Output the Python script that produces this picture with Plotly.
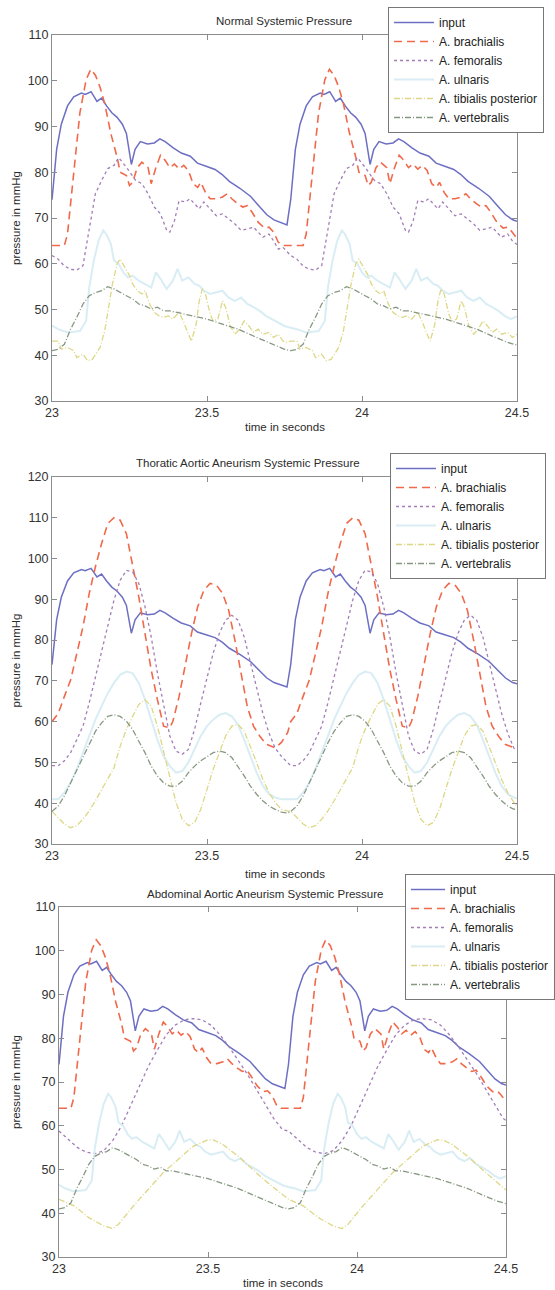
import plotly.graph_objects as go

W, H = 555, 1290

# ---------------- data ----------------
SERIES = ["input", "A. brachialis", "A. femoralis", "A. ulnaris",
          "A. tibialis posterior", "A. vertebralis"]
x_ticks = [23, 23.5, 24, 24.5]
x_tick_labels = ["23", "23.5", "24", "24.5"]

# input (same in all three panels)
t_input = [23.00, 23.015, 23.03, 23.05, 23.07, 23.095, 23.107, 23.126, 23.145, 23.16,
           23.176, 23.193, 23.21, 23.227, 23.24, 23.256, 23.268, 23.285, 23.308, 23.33,
           23.348, 23.365, 23.39, 23.417, 23.446, 23.469, 23.497, 23.526, 23.549, 23.572,
           23.606, 23.641, 23.664, 23.693, 23.716, 23.744, 23.758,
           23.77, 23.785, 23.80, 23.82, 23.84, 23.865, 23.877, 23.896, 23.915, 23.93,
           23.946, 23.963, 23.98, 23.997, 24.01, 24.026, 24.038, 24.055, 24.078, 24.10,
           24.118, 24.135, 24.16, 24.187, 24.216, 24.239, 24.267, 24.296, 24.319, 24.342,
           24.376, 24.411, 24.434, 24.463, 24.486, 24.50]
p_input = [74, 85, 90.5, 94.5, 96.5, 97.3, 97, 97.6, 95.5, 96.2,
           94.5, 93, 92, 90.5, 88.5, 81.7, 85, 86.7, 86.2, 86.4,
           87.3, 86.7, 85.4, 84.2, 83.5, 82, 81.3, 80.6, 79.5, 78,
           76.5, 74.7, 72.9, 70.7, 69.6, 68.9, 68.5,
           74, 85, 90.5, 94.5, 96.5, 97.3, 97, 97.6, 95.5, 96.2,
           94.5, 93, 92, 90.5, 88.5, 81.7, 85, 86.7, 86.2, 86.4,
           87.3, 86.7, 85.4, 84.2, 83.5, 82, 81.3, 80.6, 79.5, 78,
           76.5, 74.7, 72.9, 70.7, 69.6, 69.3]

# normal systemic pressure (brachialis, ulnaris, vertebralis also in abdominal panel)
t_brach_n = [23.00, 23.04, 23.05, 23.07, 23.09, 23.11, 23.125, 23.14, 23.155, 23.17,
             23.19, 23.21, 23.22, 23.24, 23.25, 23.26, 23.275, 23.29, 23.31, 23.32,
             23.335, 23.35, 23.365, 23.38, 23.395, 23.41, 23.425, 23.44, 23.455, 23.47,
             23.48, 23.495, 23.51, 23.53, 23.55, 23.565, 23.58, 23.60, 23.615, 23.63,
             23.645, 23.665, 23.685, 23.70, 23.715, 23.73, 23.745,
             23.77, 23.81, 23.82, 23.84, 23.86, 23.88, 23.895, 23.91, 23.925, 23.94,
             23.96, 23.98, 23.99, 24.01, 24.02, 24.03, 24.045, 24.06, 24.08, 24.09,
             24.105, 24.12, 24.135, 24.15, 24.165, 24.18, 24.195, 24.21, 24.225, 24.24,
             24.25, 24.265, 24.28, 24.30, 24.32, 24.335, 24.35, 24.37, 24.385, 24.40,
             24.415, 24.435, 24.455, 24.47, 24.485, 24.50]
p_brach_n = [64, 64, 66.5, 80, 93, 100.2, 102.5, 101.2, 98.6, 95,
             88.4, 83.3, 80, 79.3, 77.1, 77.8, 81, 82.2, 81, 77.5,
             81, 83.7, 82.6, 81, 81.8, 80.7, 81.5, 80.4, 77.5, 76.7,
             77.8, 75.6, 74.2, 74.2, 74.6, 75.3, 74.2, 73.1, 72.4, 72.7,
             71.3, 69.1, 67.8, 68, 66.9, 64.7, 64,
             64, 64, 66.5, 80, 93, 100.2, 102.5, 101.2, 98.6, 95,
             88.4, 83.3, 80, 79.3, 77.1, 77.8, 81, 82.2, 81, 77.5,
             81, 83.7, 82.6, 81, 81.8, 80.7, 81.5, 80.4, 77.5, 76.7,
             77.8, 75.6, 74.2, 74.2, 74.6, 75.3, 74.2, 73.1, 72.4, 72.7,
             71.3, 69.1, 67.8, 68, 66.9, 65.5]

t_fem_n = [23.00, 23.02, 23.04, 23.06, 23.08, 23.10, 23.11, 23.125, 23.14, 23.16,
           23.18, 23.20, 23.215, 23.24, 23.255, 23.27, 23.29, 23.31, 23.33, 23.35,
           23.37, 23.38, 23.395, 23.41, 23.43, 23.445, 23.46, 23.475, 23.49, 23.51,
           23.53, 23.55, 23.57, 23.59, 23.61, 23.63, 23.65, 23.665, 23.68, 23.70,
           23.715, 23.73, 23.745, 23.76,
           23.77, 23.79, 23.81, 23.83, 23.85, 23.87, 23.88, 23.895, 23.91, 23.93,
           23.95, 23.97, 23.985, 24.01, 24.025, 24.04, 24.06, 24.08, 24.10, 24.12,
           24.14, 24.15, 24.165, 24.18, 24.20, 24.215, 24.23, 24.245, 24.26, 24.28,
           24.30, 24.32, 24.34, 24.36, 24.38, 24.40, 24.42, 24.435, 24.45, 24.47,
           24.485, 24.50]
p_fem_n = [61.8, 61, 59.5, 58.8, 58.6, 59.6, 63.6, 69.4, 75.3, 78.2,
           80.8, 81.5, 83.2, 81.1, 79.7, 78.2, 77.5, 75.3, 72.4, 70.9,
           67.3, 66.9, 69.4, 73.8, 73.5, 74.2, 73.1, 72, 73.5, 72,
           70.5, 70.9, 69.8, 68.7, 67.3, 67.6, 68, 66.9, 65.8, 66.5,
           65, 63.2, 63.6, 62.5,
           61.8, 61, 59.5, 58.8, 58.6, 59.6, 63.6, 69.4, 75.3, 78.2,
           80.8, 81.5, 83.2, 81.1, 79.7, 78.2, 77.5, 75.3, 72.4, 70.9,
           67.3, 66.9, 69.4, 73.8, 73.5, 74.2, 73.1, 72, 73.5, 72,
           70.5, 70.9, 69.8, 68.7, 67.3, 67.6, 68, 66.9, 65.8, 66.5,
           65, 64.2]

t_uln_n = [23.00, 23.02, 23.05, 23.09, 23.11, 23.12, 23.135, 23.15, 23.165, 23.175,
           23.19, 23.20, 23.215, 23.23, 23.245, 23.26, 23.28, 23.30, 23.32, 23.335,
           23.35, 23.37, 23.39, 23.405, 23.42, 23.44, 23.46, 23.475, 23.49, 23.51,
           23.53, 23.55, 23.57, 23.59, 23.61, 23.63, 23.65, 23.67, 23.69, 23.71,
           23.73, 23.75,
           23.77, 23.79, 23.82, 23.86, 23.88, 23.89, 23.905, 23.92, 23.935, 23.945,
           23.96, 23.97, 23.985, 24.00, 24.015, 24.03, 24.05, 24.07, 24.09, 24.105,
           24.12, 24.14, 24.16, 24.175, 24.19, 24.21, 24.23, 24.245, 24.26, 24.28,
           24.30, 24.32, 24.34, 24.36, 24.38, 24.40, 24.42, 24.44, 24.46, 24.48,
           24.50]
p_uln_n = [46.5, 45.7, 45, 45.3, 47.5, 54.8, 60.7, 65, 67.3, 66.5,
           64.3, 60.7, 60, 58.1, 57, 57.4, 56.3, 55.6, 54.8, 58.1,
           56.7, 54.5, 56.3, 58.9, 56.3, 57, 55.6, 55.2, 54.1, 53.4,
           53.7, 54.1, 52.6, 51.9, 52.6, 51.2, 50.5, 49.7, 48.6, 47.9,
           47.2, 46.4,
           46, 45.7, 45, 45.3, 47.5, 54.8, 60.7, 65, 67.3, 66.5,
           64.3, 60.7, 60, 58.1, 57, 57.4, 56.3, 55.6, 54.8, 58.1,
           56.7, 54.5, 56.3, 58.9, 56.3, 57, 55.6, 55.2, 54.1, 53.4,
           53.7, 54.1, 52.6, 51.9, 52.6, 51.2, 50.5, 49.7, 48.6, 47.9,
           48.5]

t_tib_n = [23.00, 23.02, 23.03, 23.05, 23.07, 23.08, 23.10, 23.115, 23.13, 23.14,
           23.155, 23.17, 23.18, 23.195, 23.21, 23.22, 23.235, 23.25, 23.26, 23.275,
           23.29, 23.30, 23.315, 23.33, 23.345, 23.36, 23.375, 23.39, 23.41, 23.425,
           23.44, 23.45, 23.465, 23.475, 23.485, 23.495, 23.51, 23.52, 23.535, 23.55,
           23.56, 23.575, 23.59, 23.605, 23.62, 23.635, 23.65, 23.665, 23.68, 23.70,
           23.715, 23.73, 23.745, 23.76,
           23.77, 23.79, 23.80, 23.82, 23.84, 23.85, 23.87, 23.885, 23.90, 23.91,
           23.925, 23.94, 23.95, 23.965, 23.98, 23.99, 24.005, 24.02, 24.03, 24.045,
           24.06, 24.07, 24.085, 24.10, 24.115, 24.13, 24.145, 24.16, 24.18, 24.195,
           24.21, 24.22, 24.235, 24.245, 24.255, 24.265, 24.28, 24.29, 24.305, 24.32,
           24.33, 24.345, 24.36, 24.375, 24.39, 24.405, 24.42, 24.435, 24.45, 24.47,
           24.485, 24.50]
p_tib_n = [43.1, 43.1, 41.3, 41.7, 41, 39.5, 40.2, 38.8, 39.1, 40.2,
           41.7, 45.3, 49.7, 55.6, 60, 61, 59.2, 57.4, 55.6, 54.1,
           53.4, 54.1, 51.2, 49.4, 48.6, 48.3, 48.6, 47.9, 49.4, 47.2,
           44.6, 43.1, 46.8, 51.9, 54.5, 53.4, 49, 47.5, 47.9, 51.9,
           50.5, 46.4, 44.6, 45.7, 47.5, 46.4, 45, 45.7, 44.6, 45,
           43.9, 44.6, 43.1, 42.8,
           43.1, 43.1, 41.3, 41.7, 41, 39.5, 40.2, 38.8, 39.1, 40.2,
           41.7, 45.3, 49.7, 55.6, 60, 61, 59.2, 57.4, 55.6, 54.1,
           53.4, 54.1, 51.2, 49.4, 48.6, 48.3, 48.6, 47.9, 49.4, 47.2,
           44.6, 43.1, 46.8, 51.9, 54.5, 53.4, 49, 47.5, 47.9, 51.9,
           50.5, 46.4, 44.6, 45.7, 47.5, 46.4, 45, 45.7, 44.6, 45,
           43.9, 44.6]

t_vert_n = [23.00, 23.02, 23.04, 23.06, 23.08, 23.10, 23.12, 23.14, 23.16, 23.18,
            23.20, 23.22, 23.24, 23.26, 23.28, 23.30, 23.32, 23.34, 23.36, 23.38,
            23.40, 23.45, 23.50, 23.55, 23.60, 23.65, 23.70, 23.75,
            23.77, 23.79, 23.81, 23.83, 23.85, 23.87, 23.89, 23.91, 23.93, 23.95,
            23.97, 23.99, 24.01, 24.03, 24.05, 24.07, 24.09, 24.11, 24.13, 24.15,
            24.17, 24.22, 24.27, 24.32, 24.37, 24.42, 24.47, 24.50]
p_vert_n = [41, 41.3, 42.4, 45.7, 48.3, 51.2, 53, 53.7, 54.1, 55,
            54.5, 53.7, 53, 52.3, 51.2, 50.8, 50.1, 50.5, 49.7, 49.7,
            49.4, 48.6, 47.9, 46.8, 45.7, 44.2, 42.8, 41.3,
            41, 41.3, 42.4, 45.7, 48.3, 51.2, 53, 53.7, 54.1, 55,
            54.5, 53.7, 53, 52.3, 51.2, 50.8, 50.1, 50.5, 49.7, 49.7,
            49.4, 48.6, 47.9, 46.8, 45.7, 44.2, 42.8, 42.2]

# thoracic aortic aneurism
t_brach_t = [23.00, 23.02, 23.04, 23.06, 23.08, 23.10, 23.12, 23.14, 23.16, 23.18,
             23.20, 23.22, 23.24, 23.26, 23.28, 23.30, 23.32, 23.34, 23.36,
             23.38, 23.39, 23.41, 23.43, 23.45, 23.47, 23.49, 23.51, 23.53, 23.55,
             23.57, 23.59, 23.61, 23.63, 23.65, 23.67, 23.69, 23.72, 23.74, 23.76,
             23.77, 23.79, 23.81, 23.83, 23.85, 23.87, 23.89, 23.91, 23.93, 23.95,
             23.97, 23.99, 24.01, 24.03, 24.05, 24.07, 24.09, 24.11, 24.13,
             24.15, 24.16, 24.18, 24.20, 24.22, 24.24, 24.26, 24.28, 24.30, 24.32,
             24.34, 24.36, 24.38, 24.40, 24.42, 24.44, 24.46, 24.49, 24.50]
p_brach_t = [60, 62, 66.2, 70.2, 76.7, 83.3, 91.4, 98, 103.7, 108.6,
             110, 109.4, 106.1, 98.8, 90.6, 81.6, 72.7, 65.4, 58.9,
             58.5, 60.1, 66.2, 74.3, 81.6, 88.2, 92.2, 93.9, 93.5, 91.5,
             87.3, 80, 71.9, 63.7, 58.9, 56.5, 54.5, 53.6, 54.9, 57.3,
             60, 62, 66.2, 70.2, 76.7, 83.3, 91.4, 98, 103.7, 108.6,
             110, 109.4, 106.1, 98.8, 90.6, 81.6, 72.7, 65.4, 58.9,
             58.5, 60.1, 66.2, 74.3, 81.6, 88.2, 92.2, 93.9, 93.5, 91.5,
             87.3, 80, 71.9, 63.7, 58.9, 56.5, 54.5, 53.6, 53.8]

t_thor = [23.00, 23.02, 23.04, 23.06, 23.08, 23.10, 23.12, 23.14, 23.16, 23.18,
          23.20, 23.22, 23.24, 23.26, 23.28, 23.30, 23.32, 23.34, 23.36, 23.38,
          23.40, 23.42, 23.44, 23.46, 23.48, 23.50, 23.52, 23.54, 23.56, 23.58,
          23.60, 23.62, 23.64, 23.66, 23.68, 23.70, 23.72, 23.74, 23.76,
          23.77, 23.79, 23.81, 23.83, 23.85, 23.87, 23.89, 23.91, 23.93, 23.95,
          23.97, 23.99, 24.01, 24.03, 24.05, 24.07, 24.09, 24.11, 24.13, 24.15,
          24.17, 24.19, 24.21, 24.23, 24.25, 24.27, 24.29, 24.31, 24.33, 24.35,
          24.37, 24.39, 24.41, 24.43, 24.45, 24.47, 24.49, 24.50]
p_fem_t = [49.2, 49.2, 50.4, 52.4, 55.6, 58.9, 64.6, 71.1, 77.6, 84.1,
           89.8, 94.7, 97.1, 96.7, 93.9, 88.2, 80.8, 71.9, 63.7, 56.5,
           52.8, 52, 53.2, 58.1, 64.6, 71.1, 76.8, 81.7, 84.9, 86.1,
           84.9, 80.8, 74.3, 67.8, 62.1, 57.2, 53.5, 51.5, 49.9,
           49.2, 49.2, 50.4, 52.4, 55.6, 58.9, 64.6, 71.1, 77.6, 84.1,
           89.8, 94.7, 97.1, 96.7, 93.9, 88.2, 80.8, 71.9, 63.7, 56.5,
           52.8, 52, 53.2, 58.1, 64.6, 71.1, 76.8, 81.7, 84.9, 86.1,
           84.9, 80.8, 74.3, 67.8, 62.1, 57.2, 53.5, 53.0]
p_uln_t = [41, 41, 42.6, 45, 48.4, 52.4, 56.5, 60.5, 63.8, 67,
           69.5, 71.5, 72.3, 71.9, 69.5, 65.4, 60.5, 55.6, 51.5, 49.1,
           47.5, 47.9, 50, 53.2, 56.5, 58.9, 60.5, 61.7, 62.1, 61.3,
           59.3, 55.6, 51.5, 47.5, 44.3, 42.2, 41.4, 41, 41,
           41, 41, 42.6, 45, 48.4, 52.4, 56.5, 60.5, 63.8, 67,
           69.5, 71.5, 72.3, 71.9, 69.5, 65.4, 60.5, 55.6, 51.5, 49.1,
           47.5, 47.9, 50, 53.2, 56.5, 58.9, 60.5, 61.7, 62.1, 61.3,
           59.3, 55.6, 51.5, 47.5, 44.3, 42.2, 41.4, 41.2]
p_tib_t = [38, 36.5, 34.9, 34, 34.5, 36.1, 38.1, 40.6, 43.4, 45.9,
           48.7, 54, 58.1, 61.3, 64.2, 65.4, 63.8, 58.9, 52.4, 45.9,
           40.2, 36.1, 34.5, 35.3, 38.5, 43.4, 48.3, 52.4, 56.5, 58.9,
           59.3, 57.7, 54, 50, 45.9, 42.6, 40.2, 38.5, 38.1,
           38, 36.5, 34.9, 34, 34.5, 36.1, 38.1, 40.6, 43.4, 45.9,
           48.7, 54, 58.1, 61.3, 64.2, 65.4, 63.8, 58.9, 52.4, 45.9,
           40.2, 36.1, 34.5, 35.3, 38.5, 43.4, 48.3, 52.4, 56.5, 58.9,
           59.3, 57.7, 54, 50, 45.9, 42.6, 40.2, 39.3]
p_vert_t = [38, 39.3, 41.8, 45, 48.3, 51.5, 54.8, 57.6, 59.7, 61.3,
            61.7, 61.3, 60.1, 58.1, 55.2, 52.4, 49.1, 46.7, 45, 44.2,
            44.2, 45.4, 47.5, 49.1, 50.4, 51.5, 52.4, 52.8, 52.4, 51.2,
            49.1, 46.7, 44.2, 42.2, 40.6, 39.3, 38.5, 37.8, 37.6,
            38, 39.3, 41.8, 45, 48.3, 51.5, 54.8, 57.6, 59.7, 61.3,
            61.7, 61.3, 60.1, 58.1, 55.2, 52.4, 49.1, 46.7, 45, 44.2,
            44.2, 45.4, 47.5, 49.1, 50.4, 51.5, 52.4, 52.8, 52.4, 51.2,
            49.1, 46.7, 44.2, 42.2, 40.6, 39.3, 38.5, 38.8]

# abdominal aortic aneurism (femoralis, tibialis differ)
t_fem_a = [23.00, 23.03, 23.06, 23.09, 23.12, 23.15, 23.18, 23.21, 23.24, 23.27,
           23.30, 23.33, 23.36, 23.39, 23.42, 23.45, 23.48, 23.51, 23.54, 23.57,
           23.60, 23.63, 23.66, 23.69, 23.72, 23.75,
           23.77, 23.80, 23.83, 23.86, 23.89, 23.92, 23.95, 23.98, 24.01, 24.04,
           24.07, 24.10, 24.13, 24.16, 24.19, 24.22, 24.25, 24.28, 24.31, 24.34,
           24.37, 24.40, 24.43, 24.46, 24.49, 24.50]
p_fem_a = [58.8, 57, 55.1, 54, 53.6, 54.3, 56.6, 60, 64.6, 69,
           73.6, 77.3, 80.8, 83, 84.2, 84.5, 84.2, 83, 80.8, 78.1,
           75.1, 72, 68.6, 65.2, 61.7, 59.1,
           58.8, 57, 55.1, 54, 53.6, 54.3, 56.6, 60, 64.6, 69,
           73.6, 77.3, 80.8, 83, 84.2, 84.5, 84.2, 83, 80.8, 78.1,
           75.1, 72, 68.6, 65.2, 61.7, 61.2]
t_tib_a = [23.00, 23.05, 23.10, 23.15, 23.18, 23.20, 23.25, 23.30, 23.35, 23.40,
           23.45, 23.50, 23.52, 23.55, 23.60, 23.65, 23.70, 23.75,
           23.77, 23.82, 23.87, 23.92, 23.95, 23.97, 24.02, 24.07, 24.12, 24.17,
           24.22, 24.27, 24.29, 24.32, 24.37, 24.42, 24.47, 24.50]
p_tib_a = [43.2, 41.7, 39, 37.1, 36.5, 37.5, 41.7, 45.5, 49.3, 52.3,
           55.3, 56.8, 56.7, 55.7, 53.1, 50, 47, 44.3,
           43.2, 41.7, 39, 37.1, 36.5, 37.5, 41.7, 45.5, 49.3, 52.3,
           55.3, 56.8, 56.7, 55.7, 53.1, 50, 47, 45.3]

panel_titles = ["Normal Systemic Pressure",
                "Thoratic Aortic Aneurism Systemic Pressure",
                "Abdominal Aortic Aneurism Systemic Pressure"]
y_ranges = [(30, 110), (30, 120), (30, 110)]

panel_data = [
    [(t_input, p_input), (t_brach_n, p_brach_n), (t_fem_n, p_fem_n),
     (t_uln_n, p_uln_n), (t_tib_n, p_tib_n), (t_vert_n, p_vert_n)],
    [(t_input, p_input), (t_brach_t, p_brach_t), (t_thor, p_fem_t),
     (t_thor, p_uln_t), (t_thor, p_tib_t), (t_thor, p_vert_t)],
    [(t_input, p_input), (t_brach_n, p_brach_n), (t_fem_a, p_fem_a),
     (t_uln_n, p_uln_n), (t_tib_a, p_tib_a), (t_vert_n, p_vert_n)],
]

for pd_ in panel_data:
    for tt, pp in pd_:
        if len(tt) != len(pp):
            raise ValueError(f"length mismatch {len(tt)} vs {len(pp)}")

# ---------------- styling ----------------
styles = [
    dict(color="#6d6fc3", width=1.5, dash="solid"),
    dict(color="#f1694b", width=1.6, dash="8px,5px"),
    dict(color="#a27db7", width=1.3, dash="3px,3px"),
    dict(color="#d9edf5", width=2.0, dash="solid"),
    dict(color="#ded786", width=1.3, dash="6px,2px,1px,2px"),
    dict(color="#879882", width=1.3, dash="6px,2px,1px,2px"),
]

# panel boxes in pixels: (left, right, top, bottom)
boxes = [(52, 517, 35, 401), (52, 517, 477, 844), (59, 506, 907, 1257)]
title_pos = [(284, 21), (248, 463), (265, 894)]
xlabel_y = [427, 874, 1283]
legend_pos = [(388, 7), (390, 453), (405, 874)]
legend_itemw = [40, 40, 34]

FONT = "Liberation Sans, Arial, Helvetica, sans-serif"
TXT = "#2b2b2b"
AX = "#8c8c8c"

fig = go.Figure()
legend_names = ["legend", "legend2", "legend3"]

for i, pd_ in enumerate(panel_data):
    sfx = "" if i == 0 else str(i + 1)
    for j, (tt, pp) in enumerate(pd_):
        fig.add_trace(go.Scatter(
            x=tt, y=pp, mode="lines", name=SERIES[j],
            line=dict(color=styles[j]["color"], width=styles[j]["width"],
                      dash=styles[j]["dash"]),
            xaxis="x" + sfx, yaxis="y" + sfx, legend=legend_names[i],
            showlegend=True, hoverinfo="skip"))

layout = dict(
    width=W, height=H,
    margin=dict(l=0, r=0, t=0, b=0, autoexpand=False),
    paper_bgcolor="white", plot_bgcolor="white",
    font=dict(family=FONT, size=12, color=TXT),
    showlegend=True,
    annotations=[],
)

for i in range(3):
    l, r, t, b = boxes[i]
    sfx = "" if i == 0 else str(i + 1)
    common = dict(showline=True, linecolor=AX, linewidth=1, mirror="ticks",
                  ticks="inside", ticklen=5, tickwidth=1, tickcolor=AX,
                  showgrid=False, zeroline=False,
                  tickfont=dict(family=FONT, size=12.5, color="#333333"))
    layout["xaxis" + sfx] = dict(common, domain=[l / W, r / W], anchor="y" + sfx,
                                 range=[23, 24.5], tickvals=x_ticks,
                                 ticktext=x_tick_labels)
    y0, y1 = y_ranges[i]
    layout["yaxis" + sfx] = dict(common, domain=[1 - b / H, 1 - t / H], anchor="x" + sfx,
                                 range=[y0, y1], dtick=10, tick0=0)
    tx, ty = title_pos[i]
    layout["annotations"].append(dict(
        text=panel_titles[i], x=tx / W, y=1 - ty / H, xref="paper", yref="paper",
        xanchor="center", yanchor="middle", showarrow=False,
        font=dict(family=FONT, size=11.5, color=TXT)))
    layout["annotations"].append(dict(
        text="time in seconds", x=((l + r) / 2) / W, y=1 - xlabel_y[i] / H,
        xref="paper", yref="paper", xanchor="center", yanchor="middle",
        showarrow=False, font=dict(family=FONT, size=11.5, color=TXT)))
    layout["annotations"].append(dict(
        text="pressure in mmHg", x=16 / W, y=1 - ((t + b) / 2) / H, textangle=-90,
        xref="paper", yref="paper", xanchor="center", yanchor="middle",
        showarrow=False, font=dict(family=FONT, size=11.5, color=TXT)))
    lx, ly = legend_pos[i]
    layout[legend_names[i]] = dict(
        x=lx / W, y=1 - ly / H, xanchor="left", yanchor="top",
        xref="paper", yref="paper",
        bgcolor="white", bordercolor="#777777", borderwidth=1,
        font=dict(family=FONT, size=12, color="#222222"),
        itemwidth=legend_itemw[i], tracegroupgap=0, traceorder="normal")

fig.update_layout(**layout)
fig.write_html("out.html")
